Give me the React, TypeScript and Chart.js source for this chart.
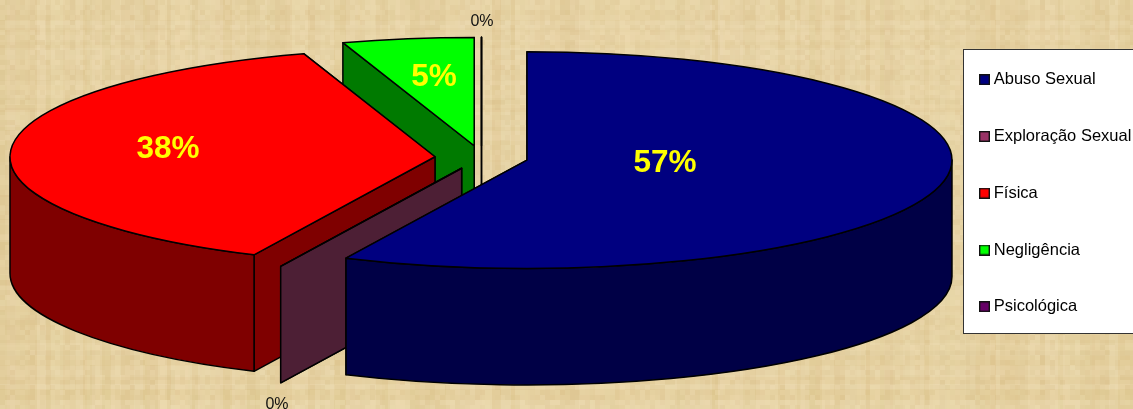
import React, { useEffect, useRef } from "react";
import { Chart, registerables } from "chart.js";

Chart.register(...registerables);

const categories = ["Abuso Sexual", "Exploração Sexual", "Física", "Negligência", "Psicológica"];
const shares = [57, 0, 38, 5, 0];
const faceColors = ["#000080", "#993366", "#ff0000", "#00ff00", "#660066"];
const wallColors = ["#000046", "#4d1f35", "#7f0000", "#007a00", "#330033"];

// Back-to-front order in which the exploded slices are painted.
const paintOrder = [4, 3, 2, 1, 0];

// Where each percentage sits on the canvas, with its font.
const labelSpots = [
  { x: 665, y: 163, font: "bold 31.5px 'Liberation Sans'", color: "#ffff00" },
  { x: 277, y: 404.5, font: "16px 'Liberation Sans'", color: "#111111" },
  { x: 168, y: 149, font: "bold 31.5px 'Liberation Sans'", color: "#ffff00" },
  { x: 434, y: 77, font: "bold 31.5px 'Liberation Sans'", color: "#ffff00" },
  { x: 482, y: 22, font: "16px 'Liberation Sans'", color: "#111111" },
];

const WIDTH = 1133;
const HEIGHT = 409;
const CENTER_X = 481.5;
const CENTER_Y = 157.5;
const RADIUS = 425;
const SQUASH = 0.255;
const DEPTH = 116.5;
const EXPLODE = 46.6;
const LEGEND_PAD = 40.25;

function makeSwatch(fill: string) {
  const c = document.createElement("canvas");
  c.width = 11;
  c.height = 11;
  const g = c.getContext("2d")!;
  g.fillStyle = fill;
  g.fillRect(0, 0, 11, 11);
  g.strokeStyle = "#111111";
  g.lineWidth = 1.4;
  g.strokeRect(0.7, 0.7, 9.6, 9.6);
  return c;
}

// Cross-woven fibres of the papyrus backdrop, from a small fixed-seed generator.
function paintPapyrus(ctx: CanvasRenderingContext2D) {
  let seed = 48271;
  const next = () => {
    seed = (seed * 16807) % 2147483647;
    return seed / 2147483647;
  };
  ctx.fillStyle = "#e6d3a4";
  ctx.fillRect(0, 0, WIDTH, HEIGHT);
  for (let x = 0; x < WIDTH; ) {
    const w = 4 + Math.floor(next() * 10);
    const dark = next() < 0.5;
    ctx.fillStyle = dark
      ? `rgba(205,170,100,${0.03 + next() * 0.1})`
      : `rgba(248,232,195,${0.03 + next() * 0.14})`;
    ctx.fillRect(x, 0, w, HEIGHT);
    x += w;
  }
  for (let y = 0; y < HEIGHT; ) {
    const h = 4 + Math.floor(next() * 9);
    const dark = next() < 0.5;
    ctx.fillStyle = dark
      ? `rgba(210,172,105,${0.02 + next() * 0.08})`
      : `rgba(248,230,195,${0.02 + next() * 0.1})`;
    ctx.fillRect(0, y, WIDTH, h);
    y += h;
  }
  for (let y = 0; y < HEIGHT; y += 5) {
    for (let x = 0; x < WIDTH; x += 5) {
      const v = next();
      ctx.fillStyle = v < 0.5 ? `rgba(195,155,90,${v * 0.18})` : `rgba(255,238,205,${(v - 0.5) * 0.24})`;
      ctx.fillRect(x, y, 5, 5);
    }
  }
}

const pie3d = {
  id: "pie3d",
  beforeDraw(chart: any) {
    const { ctx } = chart;
    ctx.save();
    paintPapyrus(ctx);
    // Legend frame runs off the right edge of the canvas.
    ctx.fillStyle = "#ffffff";
    ctx.fillRect(963.5, 49.5, 190, 284);
    ctx.strokeStyle = "#333333";
    ctx.lineWidth = 1;
    ctx.strokeRect(963.5, 49.5, 190, 284);
    ctx.restore();
  },
  afterLayout(chart: any) {
    const legend = chart.legend;
    legend.left = 983.5 - LEGEND_PAD;
    legend.top = 79 - 7.5 - LEGEND_PAD;
    legend.right = WIDTH;
    legend.bottom = HEIGHT;
  },
  beforeDatasetDraw(chart: any, args: any) {
    const { ctx } = chart;
    const arcs = args.meta.data;

    const stroke = () => {
      ctx.strokeStyle = "#000000";
      ctx.lineWidth = 1.5;
      ctx.lineJoin = "round";
      ctx.stroke();
    };

    for (const i of paintOrder) {
      const arc = arcs[i];
      const { x, y, startAngle, endAngle, outerRadius } = arc.getProps(
        ["x", "y", "startAngle", "endAngle", "outerRadius"],
        true
      );
      const mid = (startAngle + endAngle) / 2;
      const cx = CENTER_X + Math.cos(mid) * EXPLODE;
      const cy = CENTER_Y + Math.sin(mid) * EXPLODE * SQUASH;
      const rimX = (a: number) => cx + Math.cos(a) * outerRadius;
      const rimY = (a: number) => cy + Math.sin(a) * outerRadius * SQUASH;

      // Cut faces of the slice, extruded straight down.
      for (const a of [endAngle, startAngle]) {
        ctx.beginPath();
        ctx.moveTo(cx, cy);
        ctx.lineTo(rimX(a), rimY(a));
        ctx.lineTo(rimX(a), rimY(a) + DEPTH);
        ctx.lineTo(cx, cy + DEPTH);
        ctx.closePath();
        ctx.fillStyle = wallColors[i];
        ctx.fill();
        stroke();
      }

      // Curved outer wall, only where it faces the viewer.
      const from = Math.max(startAngle, 0);
      const to = Math.min(endAngle, Math.PI);
      if (to > from) {
        ctx.beginPath();
        ctx.ellipse(cx, cy, outerRadius, outerRadius * SQUASH, 0, from, to);
        ctx.lineTo(rimX(to), rimY(to) + DEPTH);
        ctx.ellipse(cx, cy + DEPTH, outerRadius, outerRadius * SQUASH, 0, to, from, true);
        ctx.closePath();
        ctx.fillStyle = wallColors[i];
        ctx.fill();
        stroke();
      }

      // Top face: the library's own arc, flattened into an ellipse.
      ctx.save();
      ctx.translate(cx, cy);
      ctx.scale(1, SQUASH);
      ctx.translate(-x, -y);
      arc.draw(ctx);
      ctx.restore();

      ctx.beginPath();
      ctx.moveTo(cx, cy);
      ctx.ellipse(cx, cy, outerRadius, outerRadius * SQUASH, 0, startAngle, Math.max(endAngle, startAngle));
      ctx.closePath();
      stroke();
    }

    // Percentage labels
    const total = shares.reduce((a, b) => a + b, 0);
    ctx.save();
    ctx.textAlign = "center";
    ctx.textBaseline = "middle";
    shares.forEach((v, i) => {
      const spot = labelSpots[i];
      ctx.font = spot.font;
      ctx.fillStyle = spot.color;
      ctx.fillText(`${Math.round((v / total) * 100)}%`, spot.x, spot.y);
    });
    ctx.restore();
    return false;
  },
};

export default function App() {
  const ref = useRef<HTMLCanvasElement>(null);
  useEffect(() => {
    const chart = new Chart(ref.current!, {
      type: "pie",
      data: {
        labels: categories,
        datasets: [
          {
            data: shares,
            backgroundColor: faceColors,
            borderWidth: 0,
          },
        ],
      },
      plugins: [pie3d],
      options: {
        responsive: false,
        animation: false,
        radius: RADIUS,
        plugins: {
          tooltip: { enabled: false },
          legend: {
            display: true,
            position: "right",
            align: "start",
            labels: {
              font: { family: "'Liberation Sans'", size: 16.5 },
              color: "#111111",
              padding: LEGEND_PAD,
              usePointStyle: true,
              pointStyleWidth: 2,
              boxHeight: 11,
              generateLabels: () =>
                categories.map((text, index) => ({
                  text,
                  index,
                  fillStyle: faceColors[index],
                  strokeStyle: "#111111",
                  lineWidth: 1,
                  hidden: false,
                  pointStyle: makeSwatch(faceColors[index]),
                })),
            },
          },
        },
      } as any,
    });
    return () => chart.destroy();
  }, []);
  return (
    <div style={{ position: "fixed", left: 0, top: 0, width: WIDTH, height: HEIGHT }}>
      <canvas ref={ref} width={WIDTH} height={HEIGHT} style={{ display: "block" }} />
    </div>
  );
}
